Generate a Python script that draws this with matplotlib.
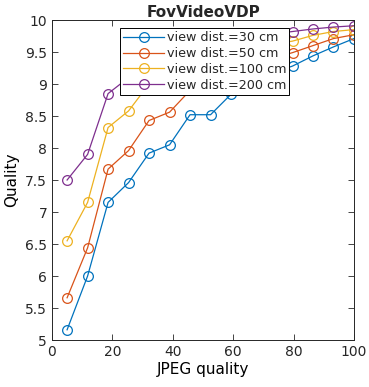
import numpy as np
import matplotlib
matplotlib.use("Agg")
import matplotlib.pyplot as plt

# JPEG quality levels
jpeg_q = [5, 11.79, 18.57, 25.36, 32.14, 38.93, 45.71, 52.5, 59.29, 66.07, 72.86, 79.64, 86.43, 93.21, 100]

q_30 = [5.16, 6.00, 7.15, 7.46, 7.92, 8.05, 8.52, 8.52, 8.84, 9.08, 9.17, 9.28, 9.44, 9.58, 9.71]
q_50 = [5.66, 6.44, 7.67, 7.96, 8.43, 8.56, 8.90, 9.05, 9.20, 9.30, 9.40, 9.49, 9.60, 9.71, 9.77]
q_100 = [6.55, 7.15, 8.32, 8.58, 9.00, 9.20, 9.35, 9.45, 9.52, 9.58, 9.62, 9.67, 9.76, 9.82, 9.85]
q_200 = [7.50, 7.90, 8.85, 9.10, 9.30, 9.45, 9.55, 9.62, 9.68, 9.73, 9.78, 9.82, 9.86, 9.89, 9.91]

labels = ["view dist.=30 cm", "view dist.=50 cm", "view dist.=100 cm", "view dist.=200 cm"]
colors = ["#0072BD", "#D95319", "#EDB120", "#7E2F8E"]

plt.rcParams['font.family'] = ['DejaVu Sans']
plt.rcParams['text.color'] = '#262626'
plt.rcParams['xtick.color'] = '#262626'
plt.rcParams['ytick.color'] = '#262626'

fig = plt.figure(figsize=(3.69, 3.87), dpi=100)
ax = fig.add_axes([52/369, 1 - 340/387, 302/369, 320/387])

for y, lab, c in zip([q_30, q_50, q_100, q_200], labels, colors):
    ax.plot(jpeg_q, y, '-o', color=c, markerfacecolor='none', markersize=7,
            linewidth=0.9, markeredgewidth=0.9, label=lab)

ax.set_xlim(0, 100)
ax.set_ylim(5, 10)
ax.set_xticks(np.arange(0, 101, 20))
ax.set_yticks(np.arange(5, 10.01, 0.5))
ax.set_yticklabels(['5', '5.5', '6', '6.5', '7', '7.5', '8', '8.5', '9', '9.5', '10'])
ax.tick_params(direction='in', top=True, right=True, labelsize=10, length=4, width=0.6)
for s in ax.spines.values():
    s.set_linewidth(0.7)
    s.set_color('#262626')

ax.set_xlabel("JPEG quality", fontsize=11, labelpad=2)
ax.set_ylabel("Quality", fontsize=11, labelpad=4)
ax.set_title("FovVideoVDP", fontsize=11, fontweight='bold', pad=2)

leg = ax.legend(loc='upper left', bbox_to_anchor=(0.225, 0.975), borderaxespad=0,
                fontsize=9.2, fancybox=False, framealpha=1, edgecolor='black',
                handlelength=3.2, handletextpad=0.2, labelspacing=0.22,
                borderpad=0.25)
leg.get_frame().set_linewidth(0.7)

fig.savefig("out.png", dpi=100)
